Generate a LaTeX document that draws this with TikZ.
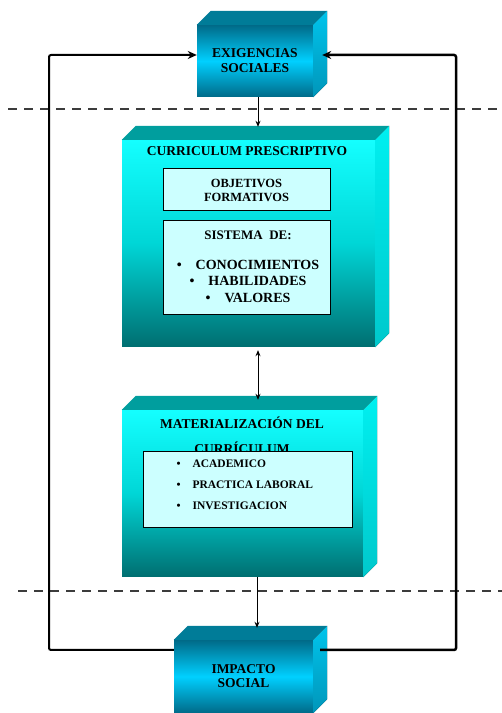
\documentclass[tikz,border=0pt]{standalone}
\usepackage{fontspec}
\setmainfont{Liberation Serif}
\usetikzlibrary{arrows.meta}

\definecolor{azulOsc}{RGB}{0,106,136}
\definecolor{azulCla}{RGB}{0,208,255}
\definecolor{azulTapa}{RGB}{0,124,152}
\definecolor{azulLadoA}{RGB}{0,196,236}
\definecolor{azulLadoB}{RGB}{0,150,186}
\definecolor{turqCla}{RGB}{20,255,255}
\definecolor{turqMed}{RGB}{0,214,214}
\definecolor{turqOsc}{RGB}{0,110,112}
\definecolor{turqTapa}{RGB}{0,158,158}
\definecolor{turqLadoA}{RGB}{0,240,240}
\definecolor{turqLadoB}{RGB}{0,200,204}
\definecolor{celeste}{RGB}{204,255,255}
\definecolor{gris}{RGB}{60,60,60}

\tikzset{
  cajaA/.style={rectangle, inner sep=0pt, top color=azulOsc, bottom color=azulOsc,
    middle color=azulCla, align=center, font=\fontsize{13.5}{15}\selectfont\bfseries},
  cajaB/.style={rectangle, inner sep=0pt, top color=turqCla, bottom color=turqOsc,
    middle color=turqMed},
  tapaA/.style={fill=azulTapa},
  ladoA/.style={top color=azulLadoA, bottom color=azulLadoB},
  tapaB/.style={fill=turqTapa},
  ladoB/.style={top color=turqLadoA, bottom color=turqLadoB},
  interior/.style={rectangle, draw=black, line width=1pt, fill=celeste, inner sep=0pt},
  titulo/.style={align=center, font=\fontsize{13.5}{25}\selectfont\bfseries},
  corte/.style={gris, line width=2pt, dash pattern=on 9pt off 7pt},
  retro/.style={line width=2pt, rounded corners=2pt, -{Stealth[length=9pt,width=8pt]}},
  flecha/.style={line width=1pt, -{Stealth[length=6pt,width=5pt]}},
}

\begin{document}
\begin{tikzpicture}[x=1pt, y=1pt]
\useasboundingbox (0,0) rectangle (502,713);
% cajas
\node[cajaA, minimum width=116pt, minimum height=72pt] (exig) at (255,652) {EXIGENCIAS\\SOCIALES};
\node[cajaB, minimum width=253pt, minimum height=207pt] (presc) at (248.5,469.5) {};
\node[cajaB, minimum width=241pt, minimum height=167pt] (mater) at (242.5,219.5) {};
\node[cajaA, minimum width=139pt, minimum height=73pt, font=\fontsize{13.5}{14}\selectfont\bfseries] (impacto) at (243.5,36.5) {IMPACTO\\SOCIAL};
\foreach \b/\t/\s in {exig/tapaA/ladoA, impacto/tapaA/ladoA, presc/tapaB/ladoB, mater/tapaB/ladoB} {
  \fill[\t] (\b.north west) -- ++(14,14) -- ([shift={(14,14)}]\b.north east) -- (\b.north east) -- cycle;
  \fill[\s] (\b.north east) -- ([shift={(14,14)}]\b.north east) -- ([shift={(14,14)}]\b.south east) -- (\b.south east) -- cycle;
}
% contenido
\node[titulo] (prescT) at (247,562) {CURRICULUM PRESCRIPTIVO};
\node[interior, minimum width=167pt, minimum height=42pt, align=center,
  font=\fontsize{12.5}{14}\selectfont\bfseries] (objet) at (246.5,523) {OBJETIVOS\\FORMATIVOS};
\node[interior, minimum width=167pt, minimum height=94pt] (sistema) at (246.5,445) {};
\node[align=center, font=\fontsize{14}{16.5}\selectfont\bfseries] (sistemaT) at (248,446)
  {{\fontsize{13}{16.5}\selectfont SISTEMA\ \ DE:}\\[13pt] \textbullet\hspace{14pt}CONOCIMIENTOS\\ \textbullet\hspace{14pt}HABILIDADES\\ \textbullet\hspace{14pt}VALORES};
\node[titulo] (materT) at (242,277.5) {MATERIALIZACIÓN DEL\\CURRÍCULUM};
\node[interior, minimum width=209pt, minimum height=76pt] (lista) at (247.5,223) {};
\node[anchor=west, align=left, font=\fontsize{11.5}{21}\selectfont\bfseries] (listaT) at (173,228)
  {\textbullet\hspace{12pt}ACADEMICO\\ \textbullet\hspace{12pt}PRACTICA LABORAL\\ \textbullet\hspace{12pt}INVESTIGACION};
% cortes
\coordinate (c1a) at (8,604);
\coordinate (c1b) at (502,604);
\coordinate (c2a) at (18,122);
\coordinate (c2b) at (502,122);
\draw[corte] (c1a) -- (c1b);
\draw[corte] (c2a) -- (c2b);
% flechas
\draw[flecha] ([xshift=3pt]exig.south) -- ([xshift=9.5pt,yshift=13pt]presc.north);
\draw[flecha, {Stealth[length=6pt,width=5pt]}-{Stealth[length=6pt,width=5pt]}] ([xshift=9.5pt,yshift=-3pt]presc.south) -- ([xshift=15.5pt,yshift=10pt]mater.north);
\draw[flecha] ([xshift=14.5pt]mater.south) -- ([xshift=13.5pt,yshift=12pt]impacto.north);
\coordinate (retL) at (49,63);
\coordinate (retR) at (456,63);
\draw[retro] ([yshift=-10pt]impacto.north west) -- (retL) |- ([yshift=6pt]exig.west);
\draw[retro, line width=2.5pt] ([xshift=7pt,yshift=-10pt]impacto.north east) -- (retR) |- ([xshift=9pt,yshift=6pt]exig.east);
\end{tikzpicture}
\end{document}
